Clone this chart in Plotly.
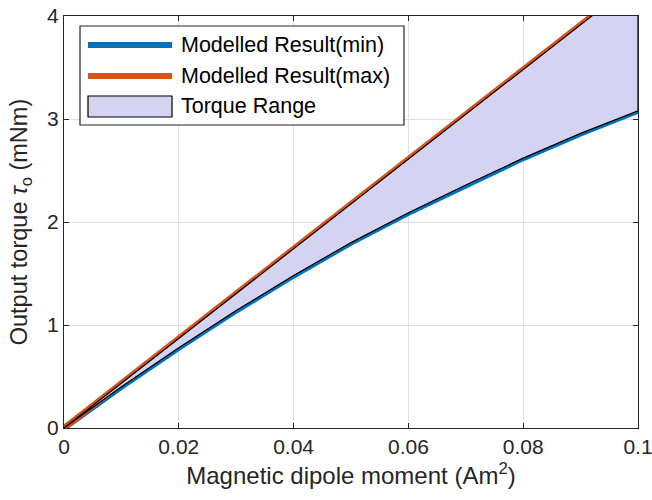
import plotly.graph_objects as go

dipole = [0.0, 0.01, 0.02, 0.03, 0.04, 0.05, 0.06, 0.07, 0.08, 0.09, 0.1]
torque_min = [0.0, 0.40, 0.78, 1.14, 1.48, 1.80, 2.09, 2.36, 2.62, 2.86, 3.08]
torque_max = [0.0, 0.435, 0.87, 1.305, 1.74, 2.175, 2.61, 3.045, 3.48, 3.915, 4.35]

x_ticks = [0, 0.02, 0.04, 0.06, 0.08, 0.1]
x_ticktext = ["0", "0.02", "0.04", "0.06", "0.08", "0.1"]
y_ticks = [0, 1, 2, 3, 4]
y_ticktext = ["0", "1", "2", "3", "4"]

legend_labels = ["Modelled Result(min)", "Modelled Result(max)", "Torque Range"]

FONT = "Arial, Liberation Sans, Helvetica, sans-serif"
AX = "#262626"
BLUE = "#0072BD"
ORANGE = "#D95319"
FILL = "#d4d4f2"

W, H = 652, 500
L, R, T, B = 64, 638, 16, 428

fig = go.Figure()
fig.add_trace(go.Scatter(x=dipole, y=torque_min, mode="lines", name=legend_labels[0],
                         line=dict(color=BLUE, width=6), showlegend=False))
fig.add_trace(go.Scatter(x=dipole, y=torque_max, mode="lines", name=legend_labels[1],
                         line=dict(color=ORANGE, width=6), showlegend=False))
fig.add_trace(go.Scatter(x=dipole + dipole[::-1], y=torque_max + torque_min[::-1],
                         mode="lines", fill="toself", fillcolor=FILL, name=legend_labels[2],
                         line=dict(color="black", width=1.2), showlegend=False))

axis_common = dict(showline=True, linecolor=AX, linewidth=1.3, mirror="ticks",
                   ticks="inside", ticklen=5, tickcolor=AX, tickwidth=1.2,
                   showgrid=True, gridcolor="#e0e0e0", gridwidth=1, zeroline=False,
                   automargin=False, ticklabeloverflow="allow",
                   tickfont=dict(family=FONT, size=21, color=AX))

fig.update_xaxes(range=[0, 0.1], tickvals=x_ticks, ticktext=x_ticktext,
                 title=dict(text="Magnetic dipole moment (Am<sup>2</sup>)",
                            font=dict(family=FONT, size=24, color=AX), standoff=9),
                 **axis_common)
fig.update_yaxes(range=[0, 4], tickvals=y_ticks, ticktext=y_ticktext,
                 title=dict(text="Output torque <i>τ</i><sub>o</sub> (mNm)",
                            font=dict(family=FONT, size=23.5, color=AX), standoff=12),
                 **axis_common)

# Manual legend (MATLAB style box), positions in page pixels
def px(x):
    return (x - L) / (R - L)
def py(y):
    return (B - y) / (B - T)

shapes = [
    dict(type="rect", xref="paper", yref="paper", x0=px(80), x1=px(404), y0=py(125), y1=py(26),
         fillcolor="white", line=dict(color=AX, width=1.2), layer="above"),
    dict(type="line", xref="paper", yref="paper", x0=px(88), x1=px(172), y0=py(45), y1=py(45),
         line=dict(color=BLUE, width=6), layer="above"),
    dict(type="line", xref="paper", yref="paper", x0=px(88), x1=px(172), y0=py(76), y1=py(76),
         line=dict(color=ORANGE, width=6), layer="above"),
    dict(type="rect", xref="paper", yref="paper", x0=px(88), x1=px(172), y0=py(117), y1=py(96),
         fillcolor=FILL, line=dict(color="black", width=1.2), layer="above"),
]
annotations = []
for lab, yy in zip(legend_labels, [45, 76, 106.5]):
    annotations.append(dict(text=lab, xref="paper", yref="paper", x=px(179), y=py(yy),
                            xanchor="left", yanchor="middle", showarrow=False,
                            font=dict(family=FONT, size=21.5, color="black")))

fig.update_layout(
    width=W, height=H,
    margin=dict(l=L, r=W - R, t=T, b=H - B, autoexpand=False),
    plot_bgcolor="white", paper_bgcolor="white",
    font=dict(family=FONT, color=AX),
    shapes=shapes, annotations=annotations,
    showlegend=False,
)

fig.write_html("out.html", config={"displayModeBar": False},
               post_script=["document.body.style.margin='0';document.body.style.overflow='hidden';"])
